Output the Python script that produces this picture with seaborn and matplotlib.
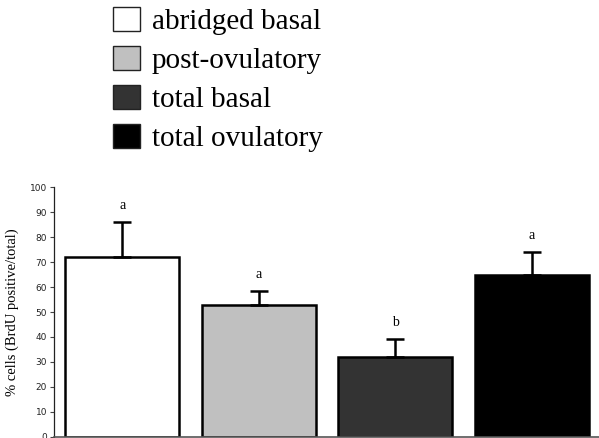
import matplotlib
matplotlib.use("Agg")
import matplotlib.pyplot as plt
import seaborn as sns
import pandas as pd
from matplotlib.patches import Patch

categories = ["abridged basal", "post-ovulatory", "total basal", "total ovulatory"]
values = [72, 53, 32, 65]
errors = [14, 5.5, 7, 9]
letters = ["a", "a", "b", "a"]
colors = ["#ffffff", "#c0c0c0", "#333333", "#000000"]
yticks = [0, 10, 20, 30, 40, 50, 60, 70, 80, 90, 100]

df = pd.DataFrame({"group": categories, "value": values})

sns.set_style("white")
fig = plt.figure(figsize=(5.99, 4.38), dpi=100)
ax = fig.add_axes([54/599, 1.3/438, 546/599, 249.4/438])

sns.barplot(data=df, x="group", y="value", hue="group", palette=colors,
            order=categories, hue_order=categories, legend=False,
            width=0.835, edgecolor="black", linewidth=1.8, ax=ax, saturation=1)

xs = range(len(categories))
ax.errorbar(list(xs), values, yerr=[[0]*len(values), errors], fmt="none",
            ecolor="black", elinewidth=1.8, capsize=6.5, capthick=1.8, zorder=3)
for x, v, e, l in zip(xs, values, errors, letters):
    ax.text(x, v + e + 4, l, ha="center", va="bottom", fontsize=10,
            family="Liberation Serif", color="black")

ax.set_xlim(-0.5, 3.5)
ax.set_ylim(0, 100)
ax.set_yticks(yticks)
ax.set_yticklabels([str(t) for t in yticks], fontsize=6.5, color="#222222")
ax.set_xticks([])
ax.set_xlabel("")
ax.set_ylabel("% cells (BrdU positive/total)", family="Liberation Serif",
              fontsize=10.5, labelpad=8, color="black")
ax.tick_params(axis="y", direction="out", length=3, width=0.8, color="#444444", pad=2, left=True)
for s in ["top", "right"]:
    ax.spines[s].set_visible(False)
ax.spines["left"].set_color("#222222")
ax.spines["left"].set_linewidth(0.9)
ax.spines["bottom"].set_color("#555555")
ax.spines["bottom"].set_linewidth(1.2)

handles = [Patch(facecolor=c, edgecolor="#222222", linewidth=1.0) for c in colors]
leg = fig.legend(handles, categories, loc="upper left", bbox_to_anchor=(113/599, 1 - 7/438),
                 frameon=False, prop={"family": "Liberation Serif", "size": 21},
                 handlelength=0.92, handleheight=0.9, handletextpad=0.4,
                 labelspacing=0.37, borderpad=0, borderaxespad=0, labelcolor="black")

fig.savefig("out.png", dpi=100)
